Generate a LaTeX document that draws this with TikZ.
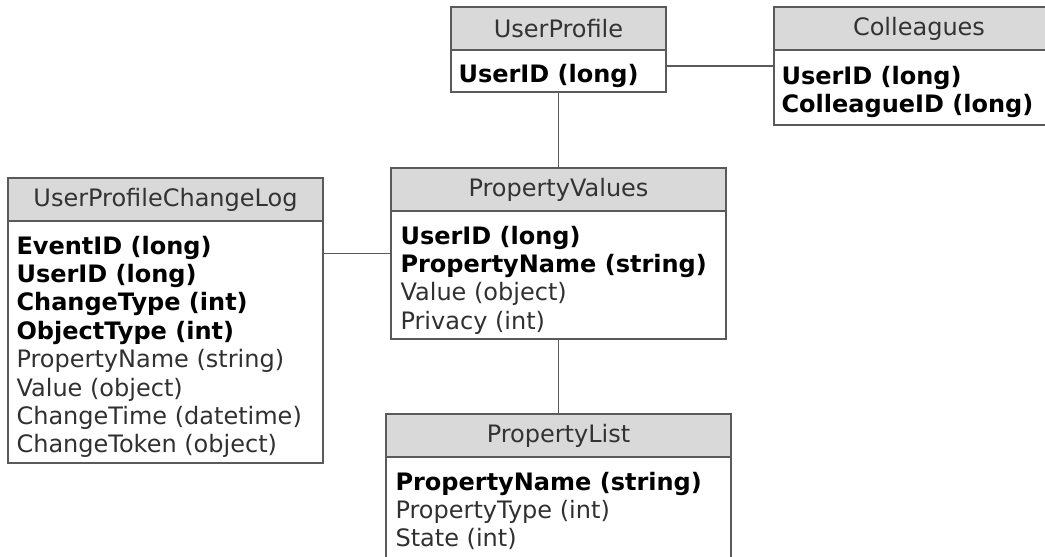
\documentclass[tikz,border=0pt]{standalone}
\usepackage{fontspec}
\setmainfont{DejaVu Sans}
\usepackage{xcolor}
\usepackage{tikz}
\usetikzlibrary{positioning}

\definecolor{hdrfill}{HTML}{D9D9D9}
\definecolor{edge}{HTML}{5A5A5A}
\definecolor{hdrtext}{HTML}{333333}
\definecolor{fldtext}{HTML}{303030}

\newcommand{\keyfld}[1]{{\bfseries\color{black}#1}}

\tikzset{
    tblframe/.style={draw=edge, line width=1.3pt, inner sep=0pt},
    tblhead/.style={draw=edge, line width=1.3pt, fill=hdrfill, inner sep=0pt,
        minimum height=43pt, text=hdrtext, font=\fontsize{24}{28.4}\selectfont},
    tblrows/.style={inner sep=0pt, align=left, text=fldtext,
        font=\fontsize{24}{28.4}\selectfont},
    link/.style={draw=edge, line width=1.3pt}
}

\begin{document}
\begin{tikzpicture}[x=1pt,y=-1pt]
    \useasboundingbox (0,0) rectangle (1045,557);

    % UserProfile
    \node [tblframe, minimum width=215pt, minimum height=85pt] (up) at (558.5,49.5) {};
    \node [tblhead, minimum width=215pt, below=0pt of up.north] (uphead) {UserProfile};
    \node [tblrows, below right=13pt and 8pt of uphead.south west] (uprows) {\keyfld{UserID (long)}};

    % Colleagues
    \node [tblframe, minimum width=290pt, minimum height=118pt] (coll) at (919,66) {};
    \node [tblhead, minimum width=290pt, below=0pt of coll.north] (collhead) {Colleagues};
    \node [tblrows, below right=15pt and 8pt of collhead.south west] (collrows) {%
        \keyfld{UserID (long)}\\
        \keyfld{ColleagueID (long)}};

    % PropertyValues
    \node [tblframe, minimum width=335pt, minimum height=171pt] (pv) at (558.5,253.5) {};
    \node [tblhead, minimum width=335pt, below=0pt of pv.north] (pvhead) {PropertyValues};
    \node [tblrows, below right=14pt and 10pt of pvhead.south west] (pvrows) {%
        \keyfld{UserID (long)}\\
        \keyfld{PropertyName (string)}\\
        Value (object)\\
        Privacy (int)};

    % UserProfileChangeLog
    \node [tblframe, minimum width=315pt, minimum height=285pt] (cl) at (165.5,320.5) {};
    \node [tblhead, minimum width=315pt, below=0pt of cl.north] (clhead) {UserProfileChangeLog};
    \node [tblrows, below right=14pt and 9pt of clhead.south west] (clrows) {%
        \keyfld{EventID (long)}\\
        \keyfld{UserID (long)}\\
        \keyfld{ChangeType (int)}\\
        \keyfld{ObjectType (int)}\\
        PropertyName (string)\\
        Value (object)\\
        ChangeTime (datetime)\\
        ChangeToken (object)};

    % PropertyList
    \node [tblframe, minimum width=345pt, minimum height=186pt] (pl) at (558.5,507) {};
    \node [tblhead, minimum width=345pt, below=0pt of pl.north] (plhead) {PropertyList};
    \node [tblrows, below right=14pt and 10pt of plhead.south west] (plrows) {%
        \keyfld{PropertyName (string)}\\
        PropertyType (int)\\
        State (int)};

    % relations
    \draw [link] (coll.west) -- (up.east |- coll.west);
    \draw [link] (up.south) -- (pv.north);
    \draw [link] (pv.west) -- (cl.east |- pv.west);
    \draw [link] (pv.south) -- (pl.north);
\end{tikzpicture}
\end{document}
